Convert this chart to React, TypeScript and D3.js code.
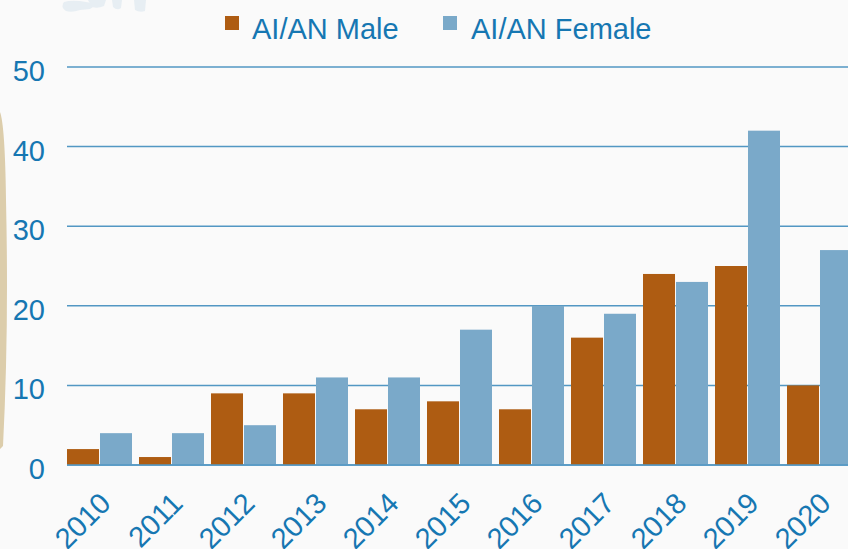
import React from "react";
import * as d3 from "d3";

const years = ["2010", "2011", "2012", "2013", "2014", "2015", "2016", "2017", "2018", "2019", "2020"];
const maleValues = [2, 1, 9, 9, 7, 8, 7, 16, 24, 25, 10];
const femaleValues = [4, 4, 5, 11, 11, 17, 20, 19, 23, 42, 27];
const seriesNames = ["AI/AN Male", "AI/AN Female"];
const seriesColors = ["#ae5c12", "#7aa9c9"];
const yTicks = [0, 10, 20, 30, 40, 50];

const W = 848;
const H = 549;
const TEXT = "#1677b2";
const GRID = "#5297c3";
const FONT = "'Liberation Sans', Arial, sans-serif";

export default function App() {
  const x0 = d3.scaleBand<string>().domain(years).range([67, 67 + 11 * 72 - 7]).paddingInner(7 / 72).paddingOuter(0);
  const x1 = d3.scaleBand<string>().domain(seriesNames).range([0, x0.bandwidth()]).paddingInner(0.03);
  const y = d3.scaleLinear().domain([0, 50]).range([465, 67]);
  const series = [maleValues, femaleValues];

  return (
    <svg width={W} height={H} style={{ position: "fixed", left: 0, top: 0, display: "block" }} fontFamily={FONT}>
      <rect x={0} y={0} width={W} height={H} fill="#fafafa" />
      {/* decorations */}
      <path d="M0,112 Q5,125 6,200 Q9,330 3,446 L0,449 Z" fill="#dccdab" />
      <g fill="#e7eef3">
        <path d="M64,2 Q70,0 80,1 L92,3 Q96,6 90,9 L80,10 Q72,13 66,11 Q60,7 64,2 Z" />
        <path d="M88,0 L106,0 L104,6 Q98,9 92,7 Z" />
        <path d="M112,0 L122,0 L121,8 Q117,11 113,7 Z" />
        <path d="M134,0 L146,0 L145,11 Q140,13 135,10 Z" />
      </g>
      {/* gridlines */}
      {yTicks.map((t) => (
        <line key={"g" + t} x1={67} x2={W} y1={y(t)} y2={y(t)} stroke={GRID} strokeWidth={1.5} />
      ))}
      {/* bars */}
      {years.map((yr, i) => (
        <g key={yr} transform={`translate(${x0(yr)},0)`}>
          {series.map((vals, s) => (
            <rect
              key={s}
              x={x1(seriesNames[s])}
              y={y(vals[i])}
              width={x1.bandwidth()}
              height={y(0) - y(vals[i])}
              fill={seriesColors[s]}
            />
          ))}
        </g>
      ))}
      <line x1={67} x2={W} y1={y(0)} y2={y(0)} stroke={GRID} strokeWidth={1.5} />
      {/* y labels */}
      {yTicks.map((t) => (
        <text key={"y" + t} x={45} y={y(t) + 14} textAnchor="end" fontSize={29} fill={TEXT}>
          {t}
        </text>
      ))}
      {/* x labels */}
      {years.map((yr) => {
        const cx = (x0(yr) as number) + x0.bandwidth() / 2 + 13;
        return (
          <text key={"x" + yr} transform={`translate(${cx},505) rotate(-45)`} textAnchor="end" fontSize={29} fill={TEXT}>
            {yr}
          </text>
        );
      })}
      {/* legend */}
      <rect x={225} y={16} width={14} height={14} fill={seriesColors[0]} />
      <text x={252} y={39} fontSize={29} fill={TEXT}>{seriesNames[0]}</text>
      <rect x={443} y={16} width={14} height={14} fill={seriesColors[1]} />
      <text x={471} y={39} fontSize={29} fill={TEXT}>{seriesNames[1]}</text>
    </svg>
  );
}
